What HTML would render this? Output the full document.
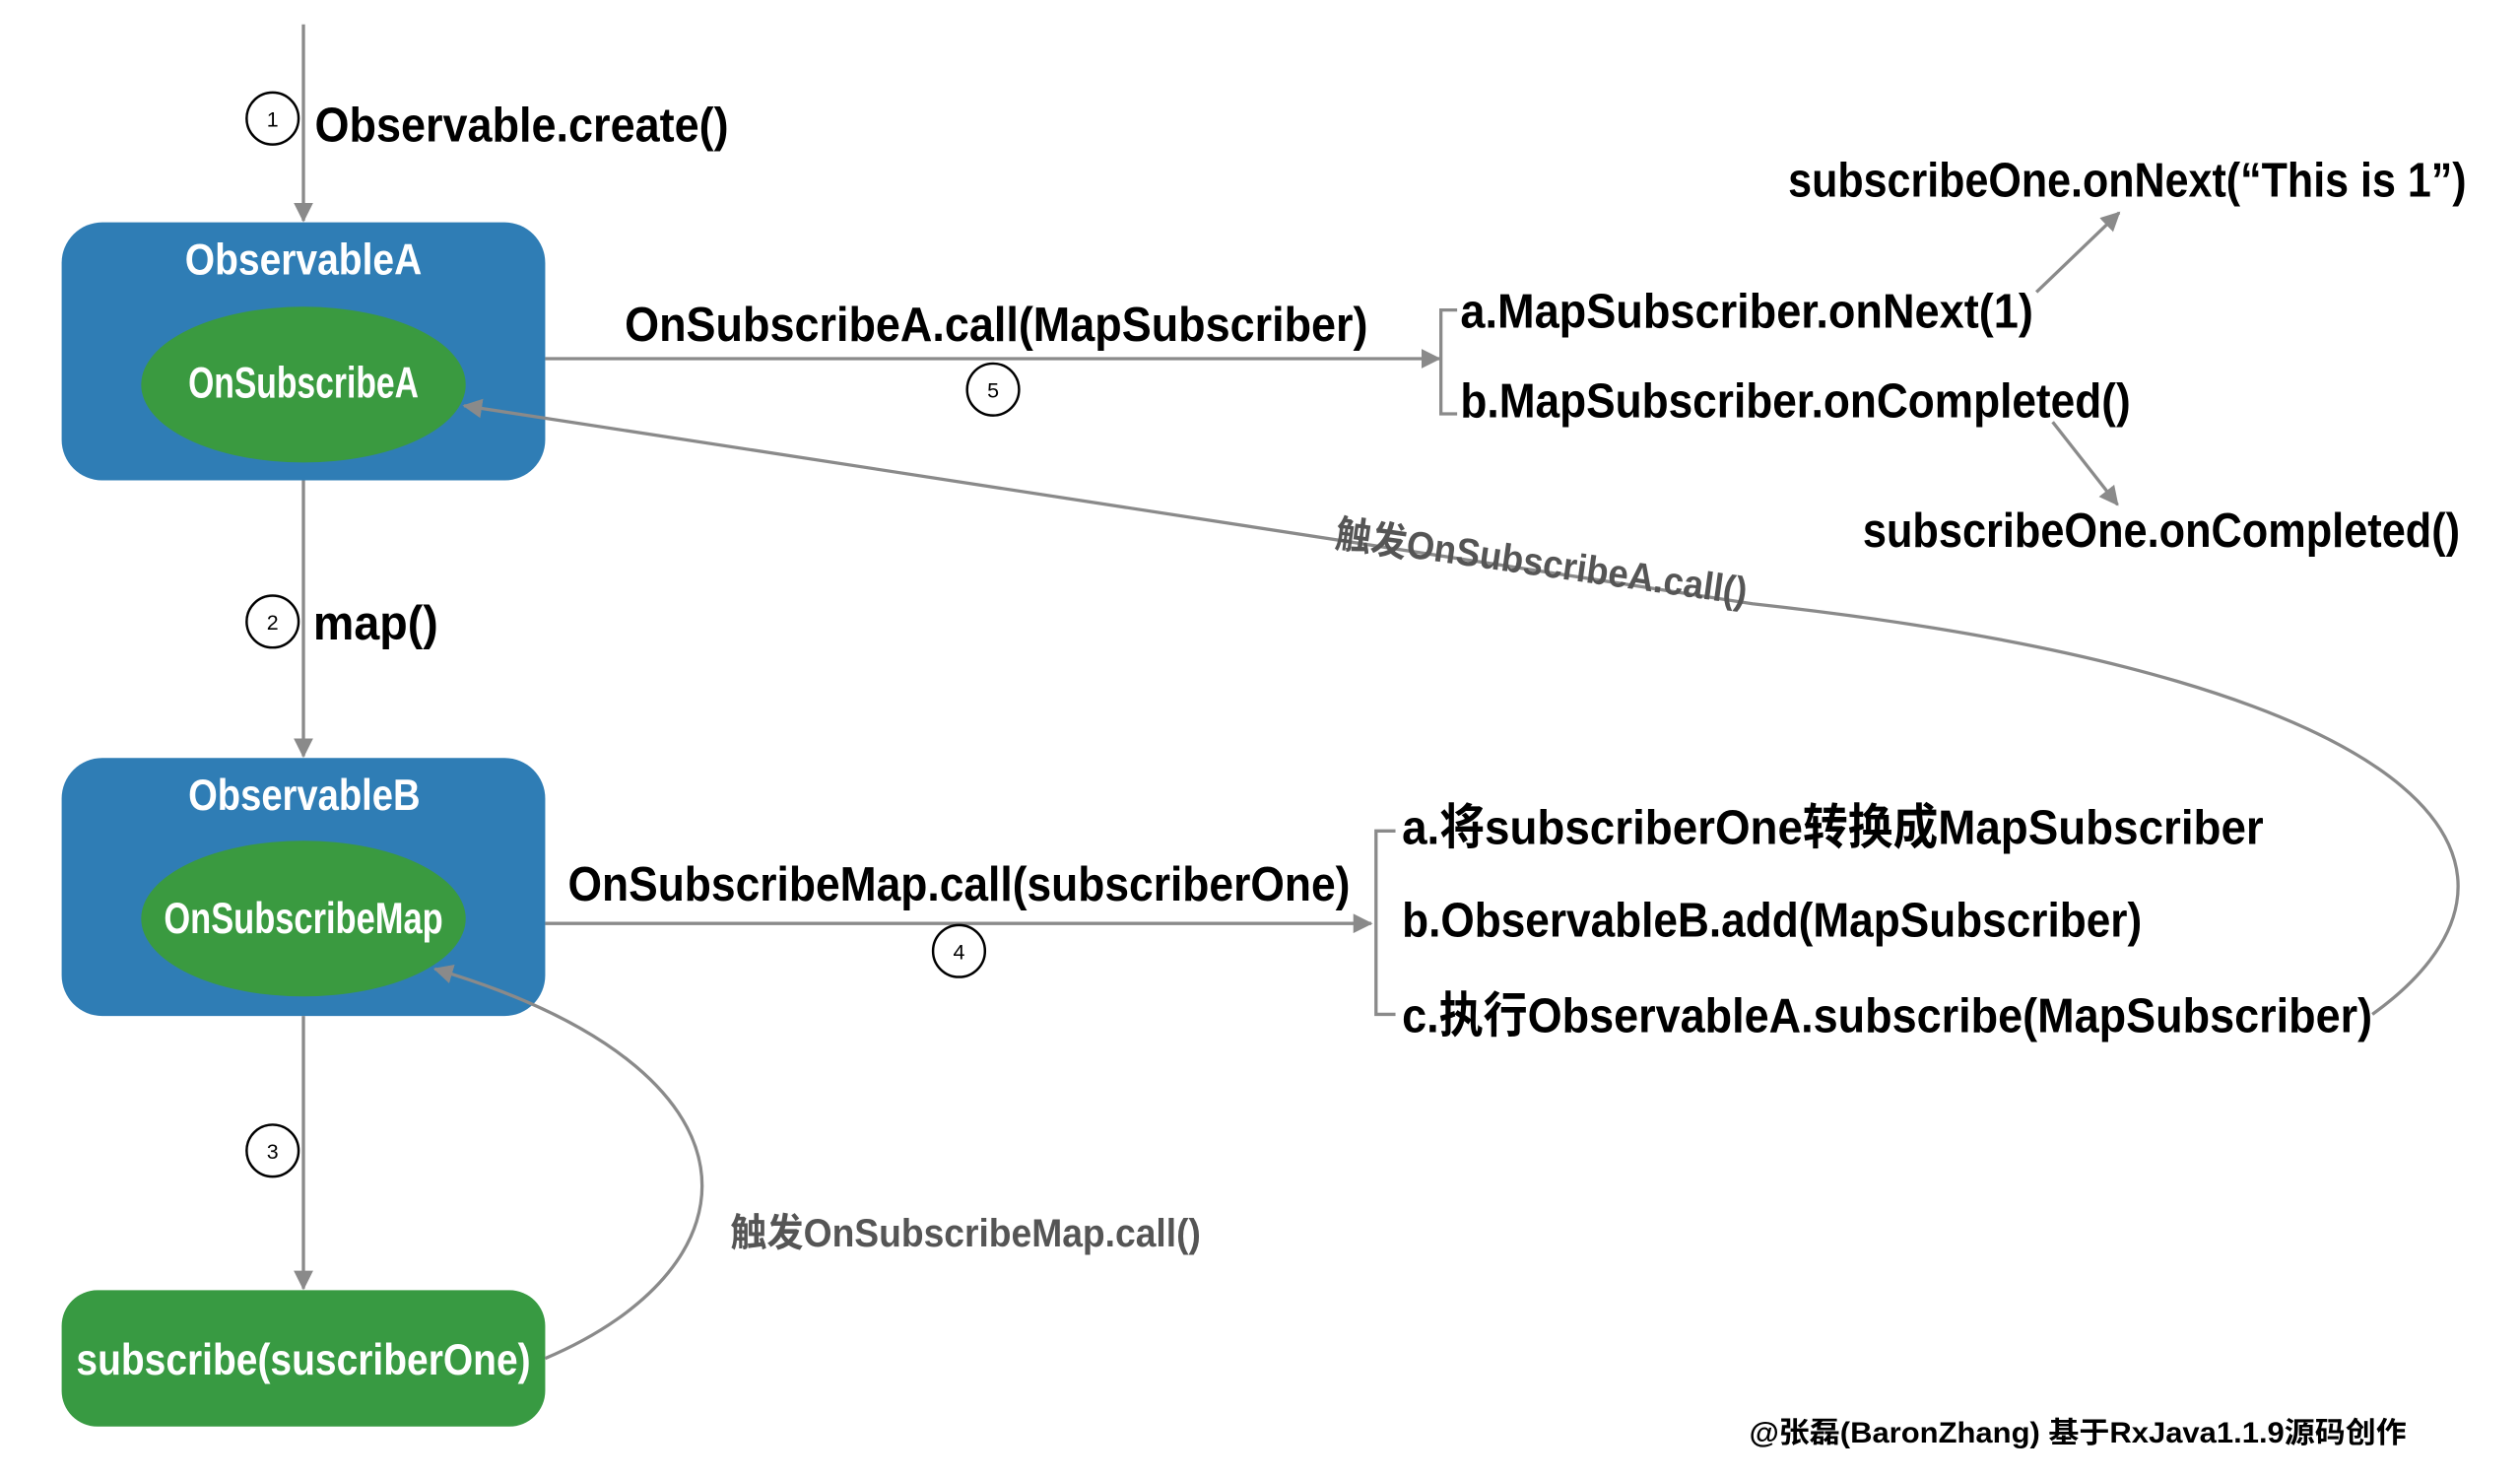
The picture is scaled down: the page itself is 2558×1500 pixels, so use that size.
<!DOCTYPE html>
<html><head><meta charset="utf-8"><style>
html,body{margin:0;padding:0;background:#fff;}
svg{display:block;}
text{font-family:"Liberation Sans","Noto Sans CJK SC",sans-serif;font-weight:bold;}
.k{fill:#000;font-size:30px;}
.w{fill:#fff;font-size:27px;}
.g{fill:#555;font-size:24px;}
.n{font-size:13px;font-weight:normal;fill:#000;}
</style></head><body>
<svg width="2558" height="1500" viewBox="0 0 1553 910.7" preserveAspectRatio="none" xmlns="http://www.w3.org/2000/svg">
<defs>
<marker id="ar" markerWidth="12" markerHeight="12" refX="11" refY="6" orient="auto" markerUnits="userSpaceOnUse">
<path d="M0,0 L12,6 L0,12 z" fill="#8a8a8a"/></marker>
</defs>
<rect x="38" y="137" width="298" height="159" rx="25" fill="#2f7db5"/>
<ellipse cx="187" cy="237" rx="100" ry="48" fill="#3a9a40"/>
<rect x="38" y="467" width="298" height="159" rx="25" fill="#2f7db5"/>
<ellipse cx="187" cy="566" rx="100" ry="48" fill="#3a9a40"/>
<rect x="38" y="795" width="298" height="84" rx="22" fill="#389a42"/>
<g stroke="#8a8a8a" stroke-width="2" fill="none">
<line x1="187" y1="15" x2="187" y2="136" marker-end="url(#ar)"/>
<line x1="187" y1="296" x2="187" y2="466" marker-end="url(#ar)"/>
<line x1="187" y1="626" x2="187" y2="794" marker-end="url(#ar)"/>
<line x1="336" y1="221" x2="887" y2="221" marker-end="url(#ar)"/>
<path d="M898,191 H888 V255 H898"/>
<line x1="336" y1="569" x2="845" y2="569" marker-end="url(#ar)"/>
<path d="M860,512 H848 V625 H860"/>
<line x1="1255" y1="180" x2="1306" y2="131" marker-end="url(#ar)"/>
<line x1="1265" y1="260" x2="1305" y2="311" marker-end="url(#ar)"/>
<path d="M1462,625 C1580,540 1520,420 1080,372 L286,250" marker-end="url(#ar)"/>
<path d="M336,837 C470,780 480,660 268,597" marker-end="url(#ar)"/>
</g>
<g fill="#fff" stroke="#000" stroke-width="1.5">
<circle cx="168" cy="73" r="16"/><circle cx="168" cy="383" r="16"/><circle cx="168" cy="709" r="16"/>
<circle cx="612" cy="240" r="16"/><circle cx="591" cy="586" r="16"/>
</g>
<g text-anchor="middle">
<text class="n" x="168" y="78">1</text><text class="n" x="168" y="388">2</text><text class="n" x="168" y="714">3</text>
<text class="n" x="612" y="245">5</text><text class="n" x="591" y="591">4</text>
</g>
<text class="w" x="114" y="169" textLength="146" lengthAdjust="spacingAndGlyphs">ObservableA</text>
<text class="w" x="116" y="245" font-size="24" textLength="142" lengthAdjust="spacingAndGlyphs">OnSubscribeA</text>
<text class="w" x="116" y="499" textLength="143" lengthAdjust="spacingAndGlyphs">ObservableB</text>
<text class="w" x="101" y="575" font-size="24" textLength="172" lengthAdjust="spacingAndGlyphs">OnSubscribeMap</text>
<text class="w" x="47" y="847" textLength="280" lengthAdjust="spacingAndGlyphs">subscribe(suscriberOne)</text>
<text class="k" x="194" y="87" textLength="255" lengthAdjust="spacingAndGlyphs">Observable.create()</text>
<text class="k" x="193" y="394" textLength="77" lengthAdjust="spacingAndGlyphs">map()</text>
<text class="k" x="385" y="210" textLength="458" lengthAdjust="spacingAndGlyphs">OnSubscribeA.call(MapSubscriber)</text>
<text class="k" x="350" y="555" textLength="482" lengthAdjust="spacingAndGlyphs">OnSubscribeMap.call(subscriberOne)</text>
<text class="k" x="900" y="202" textLength="353" lengthAdjust="spacingAndGlyphs">a.MapSubscriber.onNext(1)</text>
<text class="k" x="900" y="257" textLength="413" lengthAdjust="spacingAndGlyphs">b.MapSubscriber.onCompleted()</text>
<text class="k" x="1102" y="121" textLength="418" lengthAdjust="spacingAndGlyphs">subscribeOne.onNext(“This is 1”)</text>
<text class="k" x="1148" y="337" textLength="368" lengthAdjust="spacingAndGlyphs">subscribeOne.onCompleted()</text>
<text class="k" x="864" y="520" textLength="531" lengthAdjust="spacingAndGlyphs">a.将subscriberOne转换成MapSubscriber</text>
<text class="k" x="864" y="577" textLength="456" lengthAdjust="spacingAndGlyphs">b.ObservableB.add(MapSubscriber)</text>
<text class="k" x="864" y="636" textLength="598" lengthAdjust="spacingAndGlyphs">c.执行ObservableA.subscribe(MapSubscriber)</text>
<text class="g" x="822" y="337" transform="rotate(8 822 337)" textLength="256" lengthAdjust="spacingAndGlyphs">触发OnSubscribeA.call()</text>
<text class="g" x="450" y="768" textLength="290" lengthAdjust="spacingAndGlyphs">触发OnSubscribeMap.call()</text>
<text x="1078" y="889" font-size="18" fill="#000" textLength="405" lengthAdjust="spacingAndGlyphs">@张磊(BaronZhang) 基于RxJava1.1.9源码创作</text>
</svg>
</body></html>
